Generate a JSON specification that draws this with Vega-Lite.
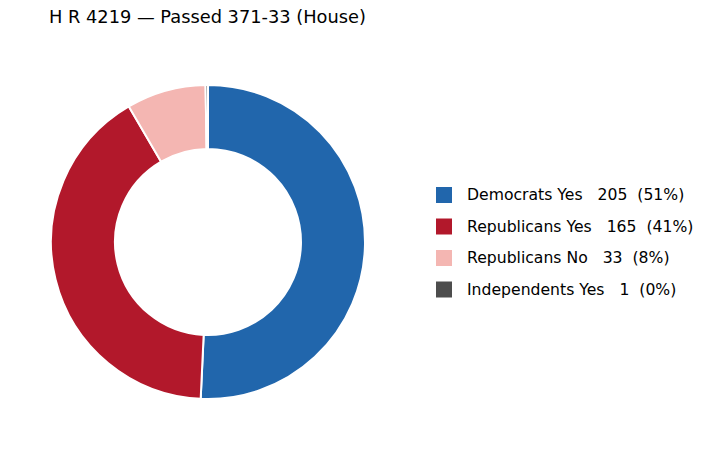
{
  "$schema": "https://vega.github.io/schema/vega-lite/v6.json",
  "background": "white",
  "width": 416,
  "height": 416,
  "autosize": {"type": "none"},
  "padding": {"top": 34, "left": 0, "right": 296, "bottom": 0},
  "view": {"stroke": null},
  "config": {"font": "DejaVu Sans"},
  "title": {
    "text": "H R 4219 \u2014 Passed 371-33 (House)",
    "anchor": "start",
    "fontSize": 17.8,
    "fontWeight": "normal",
    "color": "black",
    "baseline": "alphabetic",
    "offset": 10,
    "dx": 49,
    "dy": 17
  },
  "data": {
    "values": [
      {"group": "Democrats Yes\u00a0\u00a0\u00a0205\u00a0\u00a0(51%)", "votes": 205, "rank": 1},
      {"group": "Republicans Yes\u00a0\u00a0\u00a0165\u00a0\u00a0(41%)", "votes": 165, "rank": 2},
      {"group": "Republicans No\u00a0\u00a0\u00a033\u00a0\u00a0(8%)", "votes": 33, "rank": 3},
      {"group": "Independents Yes\u00a0\u00a0\u00a01\u00a0\u00a0(0%)", "votes": 1, "rank": 4}
    ]
  },
  "mark": {
    "type": "arc",
    "outerRadius": 157,
    "innerRadius": 93,
    "stroke": "white",
    "strokeWidth": 2
  },
  "encoding": {
    "theta": {"field": "votes", "type": "quantitative", "stack": true},
    "order": {"field": "rank", "type": "quantitative"},
    "color": {
      "field": "group",
      "type": "nominal",
      "sort": {"field": "rank"},
      "scale": {
        "domain": [
          "Democrats Yes\u00a0\u00a0\u00a0205\u00a0\u00a0(51%)",
          "Republicans Yes\u00a0\u00a0\u00a0165\u00a0\u00a0(41%)",
          "Republicans No\u00a0\u00a0\u00a033\u00a0\u00a0(8%)",
          "Independents Yes\u00a0\u00a0\u00a01\u00a0\u00a0(0%)"
        ],
        "range": ["#2166ac", "#b2182b", "#f4b6b2", "#4d4d4d"]
      },
      "legend": {
        "title": null,
        "orient": "none",
        "legendX": 436,
        "legendY": 153,
        "symbolType": "square",
        "symbolSize": 256,
        "symbolStrokeWidth": 0,
        "symbolOpacity": 1,
        "labelFontSize": 15.65,
        "labelColor": "black",
        "labelOffset": 15,
        "labelLimit": 400,
        "rowPadding": 15.5
      }
    }
  }
}
